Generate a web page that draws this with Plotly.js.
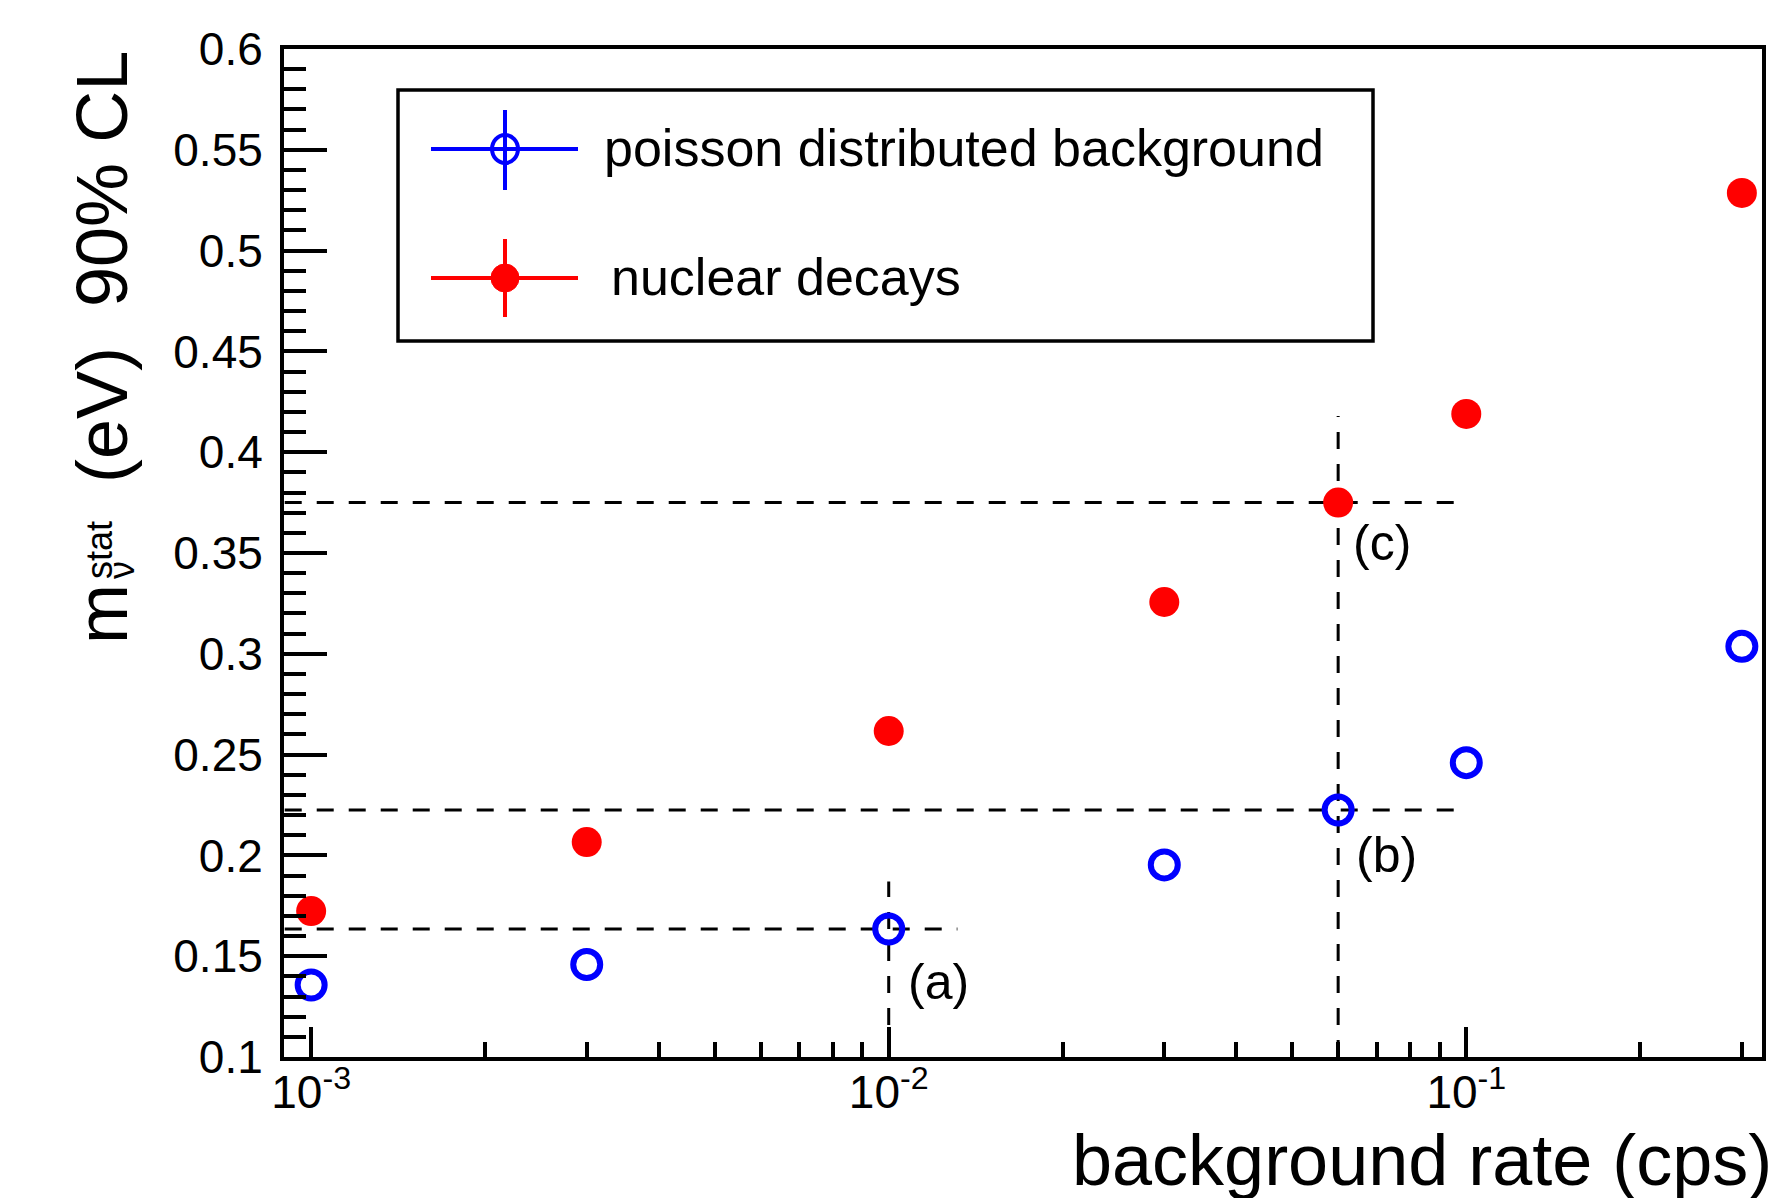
<!DOCTYPE html>
<html>
<head>
<meta charset="utf-8">
<script src="https://cdn.plot.ly/plotly-3.0.1.min.js"></script>
<style>html,body{margin:0;padding:0;background:#fff;}#chart{width:1775px;height:1198px;}</style>
</head>
<body>
<div id="chart"></div>
<script>
// ---- data ----
const rate = [0.001, 0.003, 0.01, 0.03, 0.06, 0.1, 0.3];
const poissonBg = [0.1357, 0.1459, 0.1635, 0.1953, 0.2225, 0.2460, 0.3037];
const nuclearDecays = [0.1724, 0.2066, 0.2617, 0.3257, 0.3750, 0.4190, 0.5286];

// reference guide lines (a), (b), (c)
const guideA_hx = [0.0009, 0.01315], guideA_hy = [0.1635, 0.1635];
const guideA_vx = [0.01, 0.01],      guideA_vy = [0.1, 0.187];
const guideB_hx = [0.0009, 0.097],   guideB_hy = [0.2225, 0.2225];
const guideC_hx = [0.0009, 0.097],   guideC_hy = [0.375, 0.375];
const guideBC_vx = [0.06, 0.06],     guideBC_vy = [0.1, 0.418];

const xTickVals = [0.001, 0.01, 0.1];
const xTickText = ['10<sup>-3</sup>', '10<sup>-2</sup>', '10<sup>-1</sup>'];
const xMinorVals = [0.002,0.003,0.004,0.005,0.006,0.007,0.008,0.009,
                    0.02,0.03,0.04,0.05,0.06,0.07,0.08,0.09,0.2,0.3];
const yTickVals = [0.1,0.15,0.2,0.25,0.3,0.35,0.4,0.45,0.5,0.55,0.6];
const yTickText = ['0.1','0.15','0.2','0.25','0.3','0.35','0.4','0.45','0.5','0.55','0.6'];

const legendLabels = ['poisson distributed background', 'nuclear decays'];
const xTitle = 'background rate (cps)';

// ---- geometry helpers (pixel -> paper) ----
const L = 284, R = 1762, T = 49, B = 1057;
const px = x => (x - L) / (R - L);
const py = y => (B - y) / (B - T);
const FONT = 'Liberation Sans, Arial, Helvetica, sans-serif';

const dashLine = {color: 'black', width: 3, dash: '17px,15px'};
function guide(x, y) {
  return {x: x, y: y, type: 'scatter', mode: 'lines', line: dashLine,
          hoverinfo: 'skip', showlegend: false};
}

const traces = [
  guide(guideA_hx, guideA_hy), guide(guideA_vx, guideA_vy),
  guide(guideB_hx, guideB_hy), guide(guideC_hx, guideC_hy),
  guide(guideBC_vx, guideBC_vy),
  {x: rate, y: poissonBg, type: 'scatter', mode: 'markers', name: legendLabels[0],
   marker: {symbol: 'circle-open', size: 27, color: '#0000ff', line: {width: 6, color: '#0000ff'}},
   showlegend: false},
  {x: rate, y: nuclearDecays, type: 'scatter', mode: 'markers', name: legendLabels[1],
   marker: {symbol: 'circle', size: 30, color: '#ff0000', line: {width: 0}},
   showlegend: false}
];

const shapes = [
  // legend box
  {type: 'rect', xref: 'paper', yref: 'paper', x0: px(398), x1: px(1373), y0: py(341), y1: py(90),
   line: {color: 'black', width: 3.5}, fillcolor: 'white', layer: 'above'},
  // blue entry
  {type: 'line', xref: 'paper', yref: 'paper', x0: px(431), x1: px(578), y0: py(149), y1: py(149),
   line: {color: '#0000ff', width: 4}, layer: 'above'},
  {type: 'line', xref: 'paper', yref: 'paper', x0: px(505), x1: px(505), y0: py(110), y1: py(190),
   line: {color: '#0000ff', width: 4}, layer: 'above'},
  {type: 'circle', xref: 'paper', yref: 'paper', x0: px(492), x1: px(518), y0: py(163), y1: py(135),
   line: {color: '#0000ff', width: 4}, layer: 'above'},
  // red entry
  {type: 'line', xref: 'paper', yref: 'paper', x0: px(431), x1: px(578), y0: py(278), y1: py(278),
   line: {color: '#ff0000', width: 4}, layer: 'above'},
  {type: 'line', xref: 'paper', yref: 'paper', x0: px(505), x1: px(505), y0: py(239), y1: py(317),
   line: {color: '#ff0000', width: 4}, layer: 'above'},
  {type: 'circle', xref: 'paper', yref: 'paper', x0: px(491), x1: px(519), y0: py(292), y1: py(264),
   line: {color: '#ff0000', width: 1}, fillcolor: '#ff0000', layer: 'above'}
];

function ann(text, x, y, size, opts) {
  return Object.assign({text: text, xref: 'paper', yref: 'paper', x: px(x), y: py(y),
    showarrow: false, font: {family: FONT, size: size, color: 'black'},
    xanchor: 'left', yanchor: 'middle', borderpad: 0}, opts || {});
}

const annotations = [
  ann(legendLabels[0], 603, 148, 52),
  ann(legendLabels[1], 610, 277, 52),
  ann('(a)', 907, 982, 50),
  ann('(b)', 1355, 855, 50),
  ann('(c)', 1352, 543, 50),
  ann(xTitle, 1773, 1160, 72, {xanchor: 'right'}),
  // y title pieces (rotated)
  ann('(eV)\u00a0\u00a090%\u00a0CL', 102, 50, 72, {xanchor: 'center', yanchor: 'top', textangle: -90}),
  ann('m', 102, 645, 72, {xanchor: 'center', yanchor: 'bottom', textangle: -90}),
  ann('stat', 99, 580, 36, {xanchor: 'center', yanchor: 'bottom', textangle: -90}),
  ann('\u03bd', 121, 580, 36, {xanchor: 'center', yanchor: 'bottom', textangle: -90})
];

const layout = {
  width: 1775, height: 1198,
  margin: {l: L, r: 1775 - R, t: T, b: 1198 - B, pad: 0},
  paper_bgcolor: 'white', plot_bgcolor: 'white',
  showlegend: false,
  font: {family: FONT, color: 'black'},
  xaxis: {
    type: 'log', range: [-3.047, -0.488],
    tickmode: 'array', tickvals: xTickVals, ticktext: xTickText,
    ticks: 'inside', ticklen: 30, tickwidth: 4, tickcolor: 'black',
    minor: {tickmode: 'array', tickvals: xMinorVals, ticks: 'inside', ticklen: 15, tickwidth: 4, tickcolor: 'black', showgrid: false},
    showline: true, linecolor: 'black', linewidth: 4, mirror: true,
    showgrid: false, zeroline: false,
    tickfont: {family: FONT, size: 46, color: 'black'},
    ticklabelstandoff: -8
  },
  yaxis: {
    range: [0.1, 0.6],
    tickmode: 'array', tickvals: yTickVals, ticktext: yTickText,
    ticks: 'inside', ticklen: 43, tickwidth: 4, tickcolor: 'black',
    minor: {dtick: 0.01, tick0: 0.1, ticks: 'inside', ticklen: 22, tickwidth: 4, tickcolor: 'black', showgrid: false},
    showline: true, linecolor: 'black', linewidth: 4, mirror: true,
    showgrid: false, zeroline: false,
    tickfont: {family: FONT, size: 46, color: 'black'},
    ticklabelstandoff: 8
  },
  shapes: shapes,
  annotations: annotations
};

Plotly.newPlot('chart', traces, layout, {displayModeBar: false, staticPlot: true});
</script>
</body>
</html>
